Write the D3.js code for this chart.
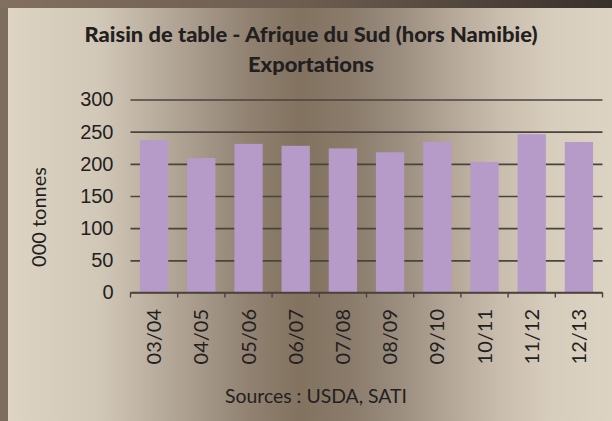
<!DOCTYPE html>
<html>
<head>
<meta charset="utf-8">
<script src="https://cdn.jsdelivr.net/npm/d3@7"></script>
<style>
  body { margin: 0; }
  svg { display: block; font-family: Lato, "Open Sans", sans-serif; }
</style>
</head>
<body>
<div id="chart"></div>
<script>
// values (000 tonnes)
const categories = ["03/04", "04/05", "05/06", "06/07", "07/08", "08/09", "09/10", "10/11", "11/12", "12/13"];
const exportsValues = [237, 209, 231, 228, 224, 218, 234, 203, 246, 234];
const yTicks = [0, 50, 100, 150, 200, 250, 300];

const titleLines = ["Raisin de table - Afrique du Sud (hors Namibie)", "Exportations"];
const yLabel = "000 tonnes";
const sourceText = "Sources : USDA, SATI";

const width = 612;
const height = 421;
const plot = { left: 130.5, right: 602.5, top: 99.5, bottom: 292.5 };

const svg = d3
  .select("#chart")
  .append("svg")
  .attr("width", width)
  .attr("height", height);

const defs = svg.append("defs");

const bg = defs
  .append("linearGradient")
  .attr("id", "bg")
  .attr("x1", 0).attr("x2", 1).attr("y1", 0).attr("y2", 0);
[
  [0, "#ddd4c4"], [0.15, "#d2c8b8"], [0.235, "#bcb0a1"], [0.318, "#a69989"],
  [0.40, "#908171"], [0.483, "#82725f"], [0.566, "#8a7b6b"], [0.649, "#9b8e7e"],
  [0.73, "#b3a697"], [0.815, "#c9bdad"], [0.897, "#d7cdbd"], [1, "#ddd3c3"]
].forEach(([o, c]) => bg.append("stop").attr("offset", o).attr("stop-color", c));

const topBand = defs
  .append("linearGradient")
  .attr("id", "topband")
  .attr("x1", 0).attr("x2", 1).attr("y1", 0).attr("y2", 0);
topBand.append("stop").attr("offset", 0).attr("stop-color", "#826f5f");
topBand.append("stop").attr("offset", 0.5).attr("stop-color", "#6c5d50");
topBand.append("stop").attr("offset", 1).attr("stop-color", "#38302a");

// frame
svg.append("rect").attr("width", width).attr("height", height).attr("fill", "#7d6d5e");
svg.append("rect").attr("width", width).attr("height", 8).attr("fill", "url(#topband)");
svg.append("rect")
  .attr("x", 8).attr("y", 8)
  .attr("width", width - 8).attr("height", height - 8)
  .attr("fill", "url(#bg)");

const x = d3
  .scaleBand()
  .domain(categories)
  .range([plot.left, plot.right])
  .paddingInner(0.4)
  .paddingOuter(0.2);

const y = d3
  .scaleLinear()
  .domain([0, 300])
  .range([plot.bottom, plot.top]);

// gridlines + y labels
const yAxis = svg
  .append("g")
  .attr("transform", `translate(${plot.left},0)`)
  .call(
    d3.axisLeft(y)
      .tickValues(yTicks)
      .tickSize(-(plot.right - plot.left))
      .tickPadding(17)
  );
yAxis.select(".domain").remove();
yAxis.selectAll(".tick line")
  .attr("stroke", "#4b433c")
  .attr("stroke-width", 1.6);
yAxis.selectAll(".tick text")
  .attr("fill", "#231f20")
  .style("font-size", "20px");

// bars
svg
  .append("g")
  .selectAll("rect")
  .data(exportsValues)
  .enter()
  .append("rect")
  .attr("x", (d, i) => x(categories[i]))
  .attr("y", d => y(d))
  .attr("width", x.bandwidth())
  .attr("height", d => y(0) - y(d))
  .attr("fill", "#b69ac8");

// x axis line with ticks at category boundaries
const boundaries = categories
  .map(c => x(c) - x.paddingOuter() * x.step())
  .concat([plot.right]);

const xAxis = svg.append("g");
xAxis.append("line")
  .attr("x1", plot.left).attr("x2", plot.right)
  .attr("y1", y(0)).attr("y2", y(0))
  .attr("stroke", "#4b433c")
  .attr("stroke-width", 1.6);
xAxis.selectAll(".bt")
  .data(boundaries)
  .enter()
  .append("line")
  .attr("class", "bt")
  .attr("x1", d => d).attr("x2", d => d)
  .attr("y1", y(0)).attr("y2", y(0) + 5)
  .attr("stroke", "#4b433c")
  .attr("stroke-width", 1.4);

xAxis.selectAll(".xl")
  .data(categories)
  .enter()
  .append("text")
  .attr("class", "xl")
  .attr("transform", d => `translate(${x(d) + x.bandwidth() / 2},309) rotate(-90)`)
  .attr("dy", "0.35em")
  .attr("text-anchor", "end")
  .attr("fill", "#231f20")
  .style("font-size", "20px")
  .text(d => d);

// title
svg.append("g")
  .selectAll("text")
  .data(titleLines)
  .enter()
  .append("text")
  .attr("x", 311)
  .attr("y", (d, i) => 42 + i * 30)
  .attr("text-anchor", "middle")
  .attr("fill", "#231f20")
  .style("font-size", "20px")
  .style("font-weight", "900")
  .attr("textLength", (d, i) => (i === 0 ? 453 : 126))
  .attr("lengthAdjust", "spacingAndGlyphs")
  .text(d => d);

// y label
svg.append("text")
  .attr("transform", "translate(46,217) rotate(-90)")
  .attr("text-anchor", "middle")
  .attr("fill", "#231f20")
  .style("font-size", "20px")
  .text(yLabel);

// source
svg.append("text")
  .attr("x", 316)
  .attr("y", 403)
  .attr("text-anchor", "middle")
  .attr("fill", "#231f20")
  .style("font-size", "20px")
  .attr("textLength", 182)
  .attr("lengthAdjust", "spacingAndGlyphs")
  .text(sourceText);
</script>
</body>
</html>
